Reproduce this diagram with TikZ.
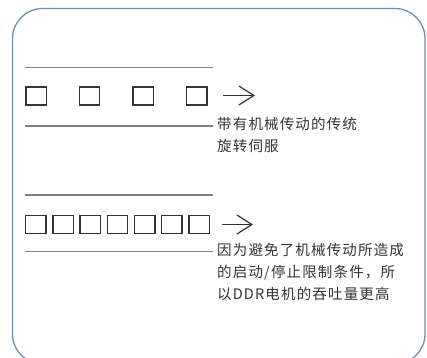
\documentclass[tikz,border=0pt]{standalone}
\usepackage{fontspec}
\newfontfamily\cjk[LetterSpace=8]{Noto Sans CJK SC}
\usetikzlibrary{arrows.meta}
\definecolor{frame}{HTML}{6C8EBF}
\definecolor{rulecol}{HTML}{808080}
\definecolor{ink}{HTML}{333333}
\begin{document}
\begin{tikzpicture}[x=1pt,y=-1pt,
  box/.style={draw=ink, line width=1.3pt, minimum width=20.4pt, minimum height=18pt, inner sep=0pt},
  rulestyle/.style={draw=rulecol, line width=1.3pt},
  arrowline/.style={draw=ink, line width=1.2pt, -{Straight Barb[length=15pt,width=19pt,line width=1.2pt]}},
  txt/.style={font=\cjk\fontsize{14.5}{22}\selectfont, text=ink, align=left, inner sep=0pt, anchor=north west}]
\useasboundingbox (0,0) rectangle (427,357);
\draw[frame, line width=1.3pt, rounded corners=30pt] (12.5,8.5) rectangle (425,364);
% section 1
\coordinate (l1a) at (25,67.7); \coordinate (l1b) at (213,67.7);
\coordinate (l2a) at (25,126); \coordinate (l2b) at (213,126);
\draw[rulestyle] (l1a) -- (l1b);
\draw[rulestyle] (l2a) -- (l2b);
\foreach \i/\x in {1/36.2,2/89.6,3/143.2,4/196.9}{
  \node[box] (a\i) at (\x,96) {};
}
\coordinate (r1s) at (222.5,95.5); \coordinate (r1e) at (255,95.5);
\draw[arrowline] (r1s) -- (r1e);
\node[txt] (t1) at (217,117) {带有机械传动的传统\\旋转伺服};
% section 2
\coordinate (l3a) at (25,195); \coordinate (l3b) at (213,195);
\coordinate (l4a) at (25,251.7); \coordinate (l4b) at (213,251.7);
\draw[rulestyle] (l3a) -- (l3b);
\draw[rulestyle] (l4a) -- (l4b);
\foreach \i in {0,...,6}{
  \node[box] (b\i) at ({35.9+27.2*\i},224.7) {};
}
\coordinate (r2s) at (222,224.5); \coordinate (r2e) at (253,224.5);
\draw[arrowline] (r2s) -- (r2e);
\node[txt] (t2) at (217,243) {因为避免了机械传动所造成\\的启动/停止限制条件，所\\以DDR电机的吞吐量更高};
\end{tikzpicture}
\end{document}
